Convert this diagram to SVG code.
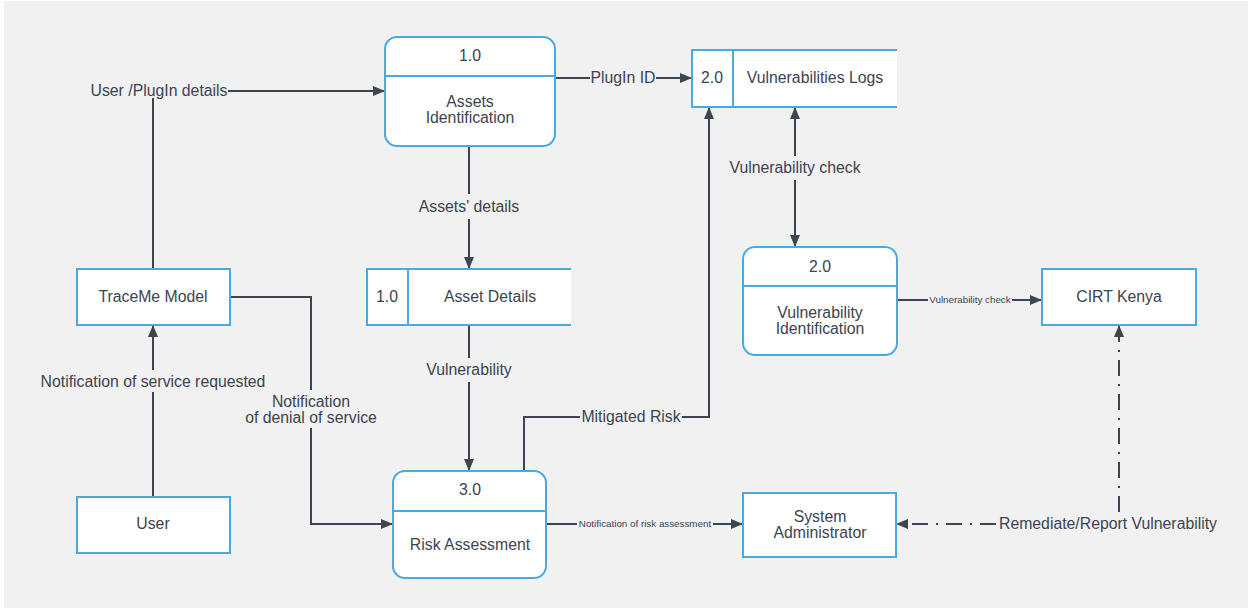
<svg xmlns="http://www.w3.org/2000/svg" width="1252" height="612" viewBox="0 0 1252 612">
<style>
.box{fill:#fff;stroke:#4aa9e0;stroke-width:2}
.ln{fill:none;stroke:#3d4550;stroke-width:2}
.t{font-family:"Liberation Sans",Arial,sans-serif;font-size:15.8px;fill:#3b4450;text-anchor:middle}
.s{font-family:"Liberation Sans",Arial,sans-serif;font-size:9.8px;fill:#3b4450;text-anchor:middle}
</style>
<defs>
<marker id="ah" viewBox="0 0 12 10" refX="12" refY="5" markerWidth="12" markerHeight="10" markerUnits="userSpaceOnUse" orient="auto-start-reverse">
<path d="M0,0 L12,5 L0,10 Z" fill="#3d4550"/>
</marker>
</defs>
<rect x="0" y="0" width="1252" height="612" fill="#fff"/>
<rect x="4" y="1" width="1244" height="607" fill="#f1f1f1"/>

<g id="connectors">
<path class="ln" d="M153,269 V98" />
<path class="ln" d="M228,91 H385" marker-end="url(#ah)"/>
<text class="t" x="159" y="96">User /PlugIn details</text>

<path class="ln" d="M555,78 H590 M656,78 H692" marker-end="url(#ah)"/>
<text class="t" x="623" y="83">PlugIn ID</text>

<path class="ln" d="M469,146 V194 M469,219 V269" marker-end="url(#ah)"/>
<text class="t" x="469" y="212">Assets' details</text>

<path class="ln" d="M469,325 V358 M469,382 V471" marker-end="url(#ah)"/>
<text class="t" x="469" y="375">Vulnerability</text>

<path class="ln" d="M524,471 V417 H580 M682,417 H709 V107" marker-end="url(#ah)"/>
<text class="t" x="631" y="422">Mitigated Risk</text>

<path class="ln" d="M795,156 V107" marker-end="url(#ah)"/>
<path class="ln" d="M795,180 V247" marker-end="url(#ah)"/>
<text class="t" x="795" y="173">Vulnerability check</text>

<path class="ln" d="M897,300 H928 M1012,300 H1042" marker-end="url(#ah)"/>
<text class="s" x="970" y="303">Vulnerability check</text>

<path class="ln" d="M153,497 V392 M153,370 V325" marker-end="url(#ah)"/>
<text class="t" x="153" y="387">Notification of service requested</text>

<path class="ln" d="M230,297 H311 V390 M311,428 V524 H393" marker-end="url(#ah)"/>
<text class="t" x="311" y="407">Notification</text>
<text class="t" x="311" y="423">of denial of service</text>

<path class="ln" d="M546,524 H577 M713,524 H743" marker-end="url(#ah)"/>
<text class="s" x="645" y="527">Notification of risk assessment</text>

<path class="ln" d="M996,524 H896" stroke-dasharray="16 8 2 8" marker-end="url(#ah)"/>
<path class="ln" d="M1119,512 V325" stroke-dasharray="16 8 2 8" marker-end="url(#ah)"/>
<text class="t" x="1108" y="529">Remediate/Report Vulnerability</text>
</g>

<g id="assets-identification">
<rect class="box" x="385" y="37" width="170" height="109" rx="12"/>
<line class="box" x1="385" y1="76" x2="555" y2="76"/>
<text class="t" x="470" y="61">1.0</text>
<text class="t" x="470" y="107">Assets</text>
<text class="t" x="470" y="123">Identification</text>
</g>

<g id="vulnerabilities-logs">
<rect x="692" y="50" width="205" height="57" fill="#fff"/>
<path class="box" d="M897,50 H692 V107 H897 M733,50 V107" fill="none"/>
<text class="t" x="712" y="83">2.0</text>
<text class="t" x="815" y="83">Vulnerabilities Logs</text>
</g>

<g id="vulnerability-identification">
<rect class="box" x="743" y="247" width="154" height="108" rx="12"/>
<line class="box" x1="743" y1="286" x2="897" y2="286"/>
<text class="t" x="820" y="272">2.0</text>
<text class="t" x="820" y="318">Vulnerability</text>
<text class="t" x="820" y="334">Identification</text>
</g>

<g id="cirt-kenya">
<rect class="box" x="1042" y="269" width="154" height="56"/>
<text class="t" x="1119" y="302">CIRT Kenya</text>
</g>

<g id="traceme-model">
<rect class="box" x="77" y="269" width="153" height="56"/>
<text class="t" x="153" y="302">TraceMe Model</text>
</g>

<g id="asset-details">
<rect x="367" y="269" width="204" height="56" fill="#fff"/>
<path class="box" d="M571,269 H367 V325 H571 M408,269 V325" fill="none"/>
<text class="t" x="387" y="302">1.0</text>
<text class="t" x="490" y="302">Asset Details</text>
</g>

<g id="user">
<rect class="box" x="77" y="497" width="153" height="56"/>
<text class="t" x="153" y="529">User</text>
</g>

<g id="risk-assessment">
<rect class="box" x="393" y="471" width="153" height="107" rx="12"/>
<line class="box" x1="393" y1="511" x2="546" y2="511"/>
<text class="t" x="470" y="495">3.0</text>
<text class="t" x="470" y="550">Risk Assessment</text>
</g>

<g id="system-administrator">
<rect class="box" x="743" y="493" width="153" height="64"/>
<text class="t" x="820" y="522">System</text>
<text class="t" x="820" y="538">Administrator</text>
</g>
</svg>
